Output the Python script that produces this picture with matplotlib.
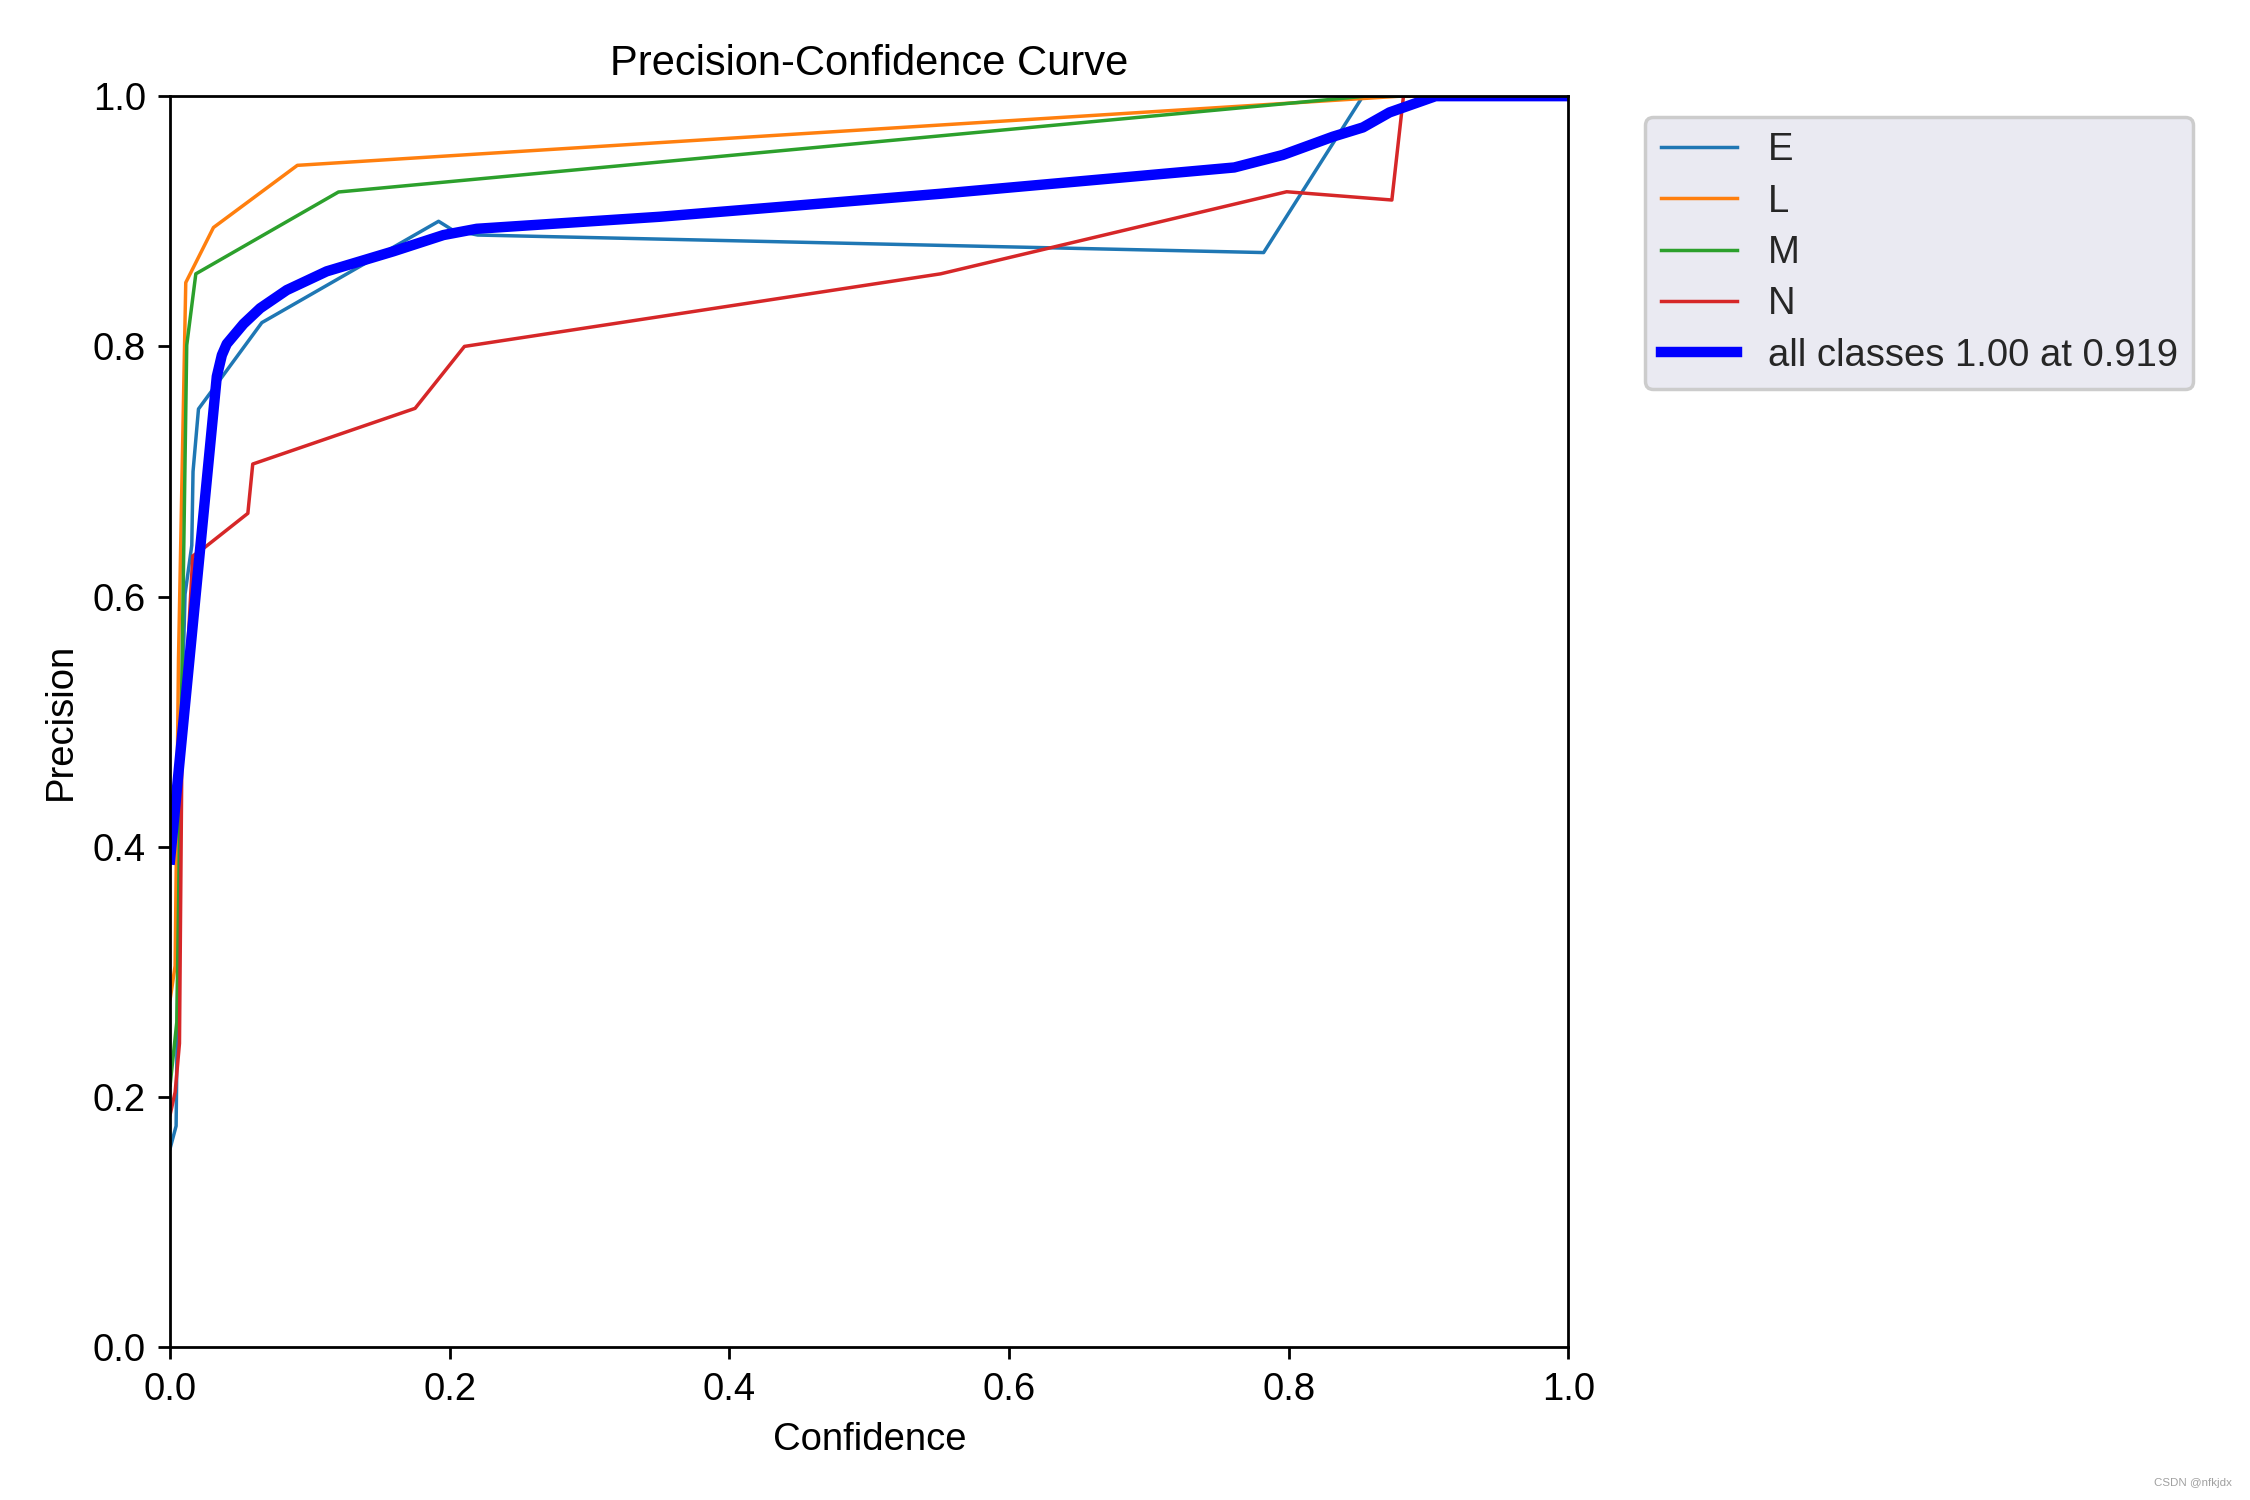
import matplotlib
matplotlib.use("Agg")
import matplotlib.pyplot as plt

plt.rcParams['font.family'] = ['Liberation Sans', 'DejaVu Sans']

# ---- data ----
class_names = ["E", "L", "M", "N"]

E_x = [0.0, 0.0043, 0.007, 0.0107, 0.0155, 0.0164, 0.0203, 0.0656, 0.192, 0.202, 0.22, 0.782, 0.853, 1.0]
E_y = [0.159, 0.177, 0.45, 0.602, 0.641, 0.70, 0.750, 0.819, 0.900, 0.893, 0.889, 0.875, 1.0, 1.0]

L_x = [0.0, 0.0036, 0.0060, 0.0112, 0.031, 0.091, 0.88, 1.0]
L_y = [0.278, 0.305, 0.55, 0.851, 0.895, 0.9447, 1.0, 1.0]

M_x = [0.0, 0.0048, 0.0119, 0.0184, 0.1204, 0.855, 1.0]
M_y = [0.2095, 0.26, 0.801, 0.858, 0.9234, 1.0, 1.0]

N_x = [0.0, 0.0036, 0.0067, 0.0084, 0.0162, 0.0239, 0.0556, 0.0591, 0.1752, 0.2105, 0.551, 0.7985, 0.8737, 0.882, 1.0]
N_y = [0.186, 0.204, 0.243, 0.47, 0.6325, 0.6386, 0.6666, 0.706, 0.7505, 0.800, 0.858, 0.9236, 0.917, 1.0, 1.0]

all_x = [0.0, 0.0334, 0.0370, 0.0405, 0.0525, 0.0644, 0.0834, 0.112, 0.1597, 0.1955, 0.2193, 0.350, 0.551, 0.761, 0.7957, 0.8315, 0.853, 0.872, 0.905, 1.0]
all_y = [0.39, 0.776, 0.793, 0.802, 0.818, 0.8305, 0.845, 0.860, 0.876, 0.889, 0.894, 0.9036, 0.922, 0.943, 0.953, 0.9676, 0.975, 0.987, 1.0, 1.0]
all_label = "all classes 1.00 at 0.919"

series_x = [E_x, L_x, M_x, N_x]
series_y = [E_y, L_y, M_y, N_y]
colors = ["#1f77b4", "#ff7f0e", "#2ca02c", "#d62728"]

fig = plt.figure(figsize=(9, 6), dpi=250)
ax = fig.add_axes([0.0756, 0.1017, 0.6215, 0.8342])

for name, xs, ys, c in zip(class_names, series_x, series_y, colors):
    ax.plot(xs, ys, linewidth=1, color=c, label=name)
ax.plot(all_x, all_y, linewidth=3, color="blue", label=all_label)

ax.set_xlim(0, 1)
ax.set_ylim(0, 1)
ax.set_xlabel("Confidence", fontsize=11)
ax.set_ylabel("Precision", fontsize=11)
ax.set_title("Precision-Confidence Curve", fontsize=12)
ax.tick_params(labelsize=11)

leg = ax.legend(bbox_to_anchor=(1.04, 1), loc="upper left", fontsize=11,
                labelspacing=0.4, borderaxespad=0.55,
                facecolor="#EAEAF2", edgecolor="#CCCCCC", framealpha=1.0,
                labelcolor="#262626")
leg.get_frame().set_linewidth(1.0)

fig.text(0.992, 0.008, "CSDN @nfkjdx", fontsize=3.3, color="#a0a0a0",
         ha="right", va="bottom")

fig.savefig("out.png", dpi=250)
